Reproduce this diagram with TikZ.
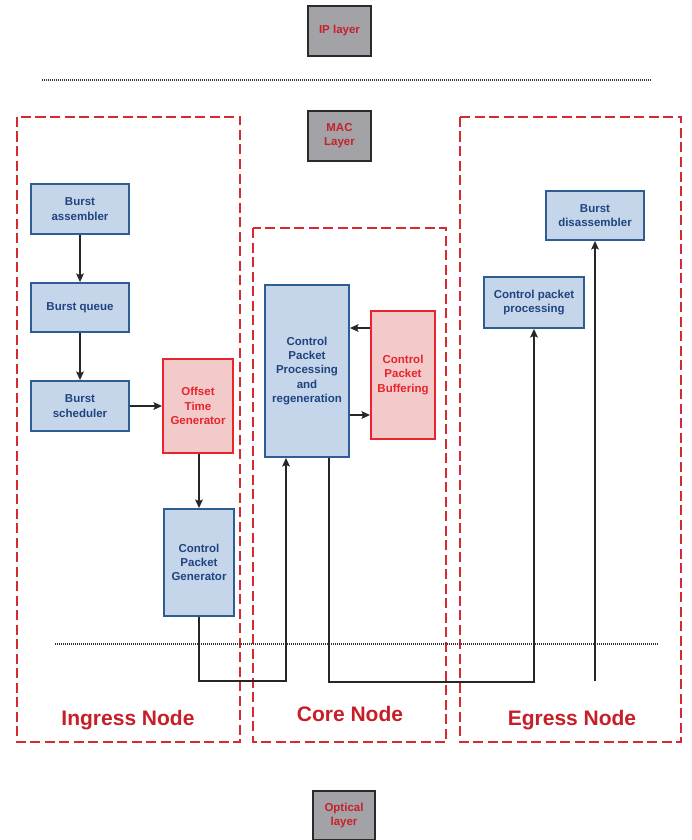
\documentclass[tikz,border=0pt]{standalone}
\usepackage{fontspec}
\setmainfont{Liberation Sans}
\usetikzlibrary{arrows.meta,calc}
\definecolor{bfill}{HTML}{C6D6EA}
\definecolor{bdraw}{HTML}{2E5D94}
\definecolor{btext}{HTML}{1F4480}
\definecolor{pfill}{HTML}{F2CACA}
\definecolor{pdraw}{HTML}{E8242C}
\definecolor{ptext}{HTML}{E8242C}
\definecolor{gfill}{HTML}{A3A3A7}
\definecolor{gdraw}{HTML}{2A2A2A}
\definecolor{gtext}{HTML}{C8202A}
\definecolor{rdash}{HTML}{D42A32}
\definecolor{lbl}{HTML}{C81E28}
\begin{document}
\begin{tikzpicture}[x=1pt,y=-1pt,
  boxfont/.style={font=\fontsize{11.5}{14.3}\selectfont\bfseries, align=center, inner sep=0pt},
  bluebox/.style={boxfont, draw=bdraw, fill=bfill, line width=1.8pt, text=btext},
  pinkbox/.style={boxfont, draw=pdraw, fill=pfill, line width=1.8pt, text=ptext},
  graybox/.style={boxfont, draw=gdraw, fill=gfill, line width=1.8pt, text=gtext, minimum width=63pt, minimum height=50pt},
  region/.style={draw=rdash, line width=1.8pt, dash pattern=on 10pt off 4.5pt},
  arr/.style={draw=black!85, line width=1.7pt, -{Stealth[length=8.5pt,width=7.5pt,inset=1.5pt]}},
  dotline/.style={draw=black!80, line width=1.2pt, dash pattern=on 1pt off 1pt},
  nodelabel/.style={font=\fontsize{21}{24}\selectfont\bfseries, text=lbl, inner sep=0pt}
]
\useasboundingbox (0,0) rectangle (692,840);
\fill[white] (0,0) rectangle (692,840);

% regions
\draw[region] (17,117) rectangle (240,742);
\draw[region] (253,228) rectangle (446,742);
\draw[region] (460,117) rectangle (681,742);

% layers
\node[graybox] (ip) at (339.5,31) {IP layer};
\node[graybox] (mac) at (339.5,136) {MAC\\Layer};
\node[graybox, minimum width=62pt, minimum height=49pt] (opt) at (344,815.5) {Optical\\layer};

% dotted separators
\coordinate (d1a) at (42,80);
\coordinate (d1b) at (652,80);
\coordinate (d2a) at (55,644);
\coordinate (d2b) at (659,644);
\draw[dotline] (d1a) -- (d1b);

% ingress
\node[bluebox, minimum width=98pt, minimum height=50pt] (ba) at (80,209) {Burst\\assembler};
\node[bluebox, minimum width=98pt, minimum height=49pt] (bq) at (80,307.5) {Burst queue};
\node[bluebox, minimum width=98pt, minimum height=50pt] (bs) at (80,406) {Burst\\scheduler};
\node[pinkbox, minimum width=70pt, minimum height=94pt] (otg) at (198,406) {Offset\\Time\\Generator};
\node[bluebox, minimum width=70pt, minimum height=107pt] (cpg) at (199,562.5) {Control\\Packet\\Generator};

% core
\node[bluebox, minimum width=84pt, minimum height=172pt] (cpp) at (307,371) {Control\\Packet\\Processing\\and\\regeneration};
\node[pinkbox, minimum width=64pt, minimum height=128pt] (cpb) at (403,375) {Control\\Packet\\Buffering};

% egress
\node[bluebox, minimum width=98pt, minimum height=49pt] (bd) at (595,215.5) {Burst\\disassembler};
\node[bluebox, minimum width=100pt, minimum height=51pt] (cpe) at (534,302.5) {Control packet\\processing};

% arrows
\draw[arr] (ba) -- (bq);
\draw[arr] (bq) -- (bs);
\draw[arr] (bs) -- (otg);
\draw[arr] (otg.south -| cpg.north) -- (cpg.north);
\draw[arr] ([yshift=47pt]cpb.west) -- ([yshift=47pt]cpb.west -| cpp.east);
\draw[arr] ([yshift=-44pt]cpp.east) -- ([yshift=-44pt]cpp.east -| cpb.west);

% optical routing
\draw[dotline] (d2a) -- (d2b);
\coordinate (r1) at (286,681);
\coordinate (r2) at (534,682);
\coordinate (r3) at (595,681);
\draw[arr] (cpg.south) |- (r1) -- (r1 |- cpp.south);
\draw[arr] ([xshift=22pt]cpp.south) |- (r2) -- (cpe.south);
\draw[arr] (r3) -- (bd.south);

% labels
\node[nodelabel] (lin) at (128,720) {Ingress Node};
\node[nodelabel] (lco) at (350,714) {Core Node};
\node[nodelabel] (leg) at (572,720) {Egress Node};
\end{tikzpicture}
\end{document}
